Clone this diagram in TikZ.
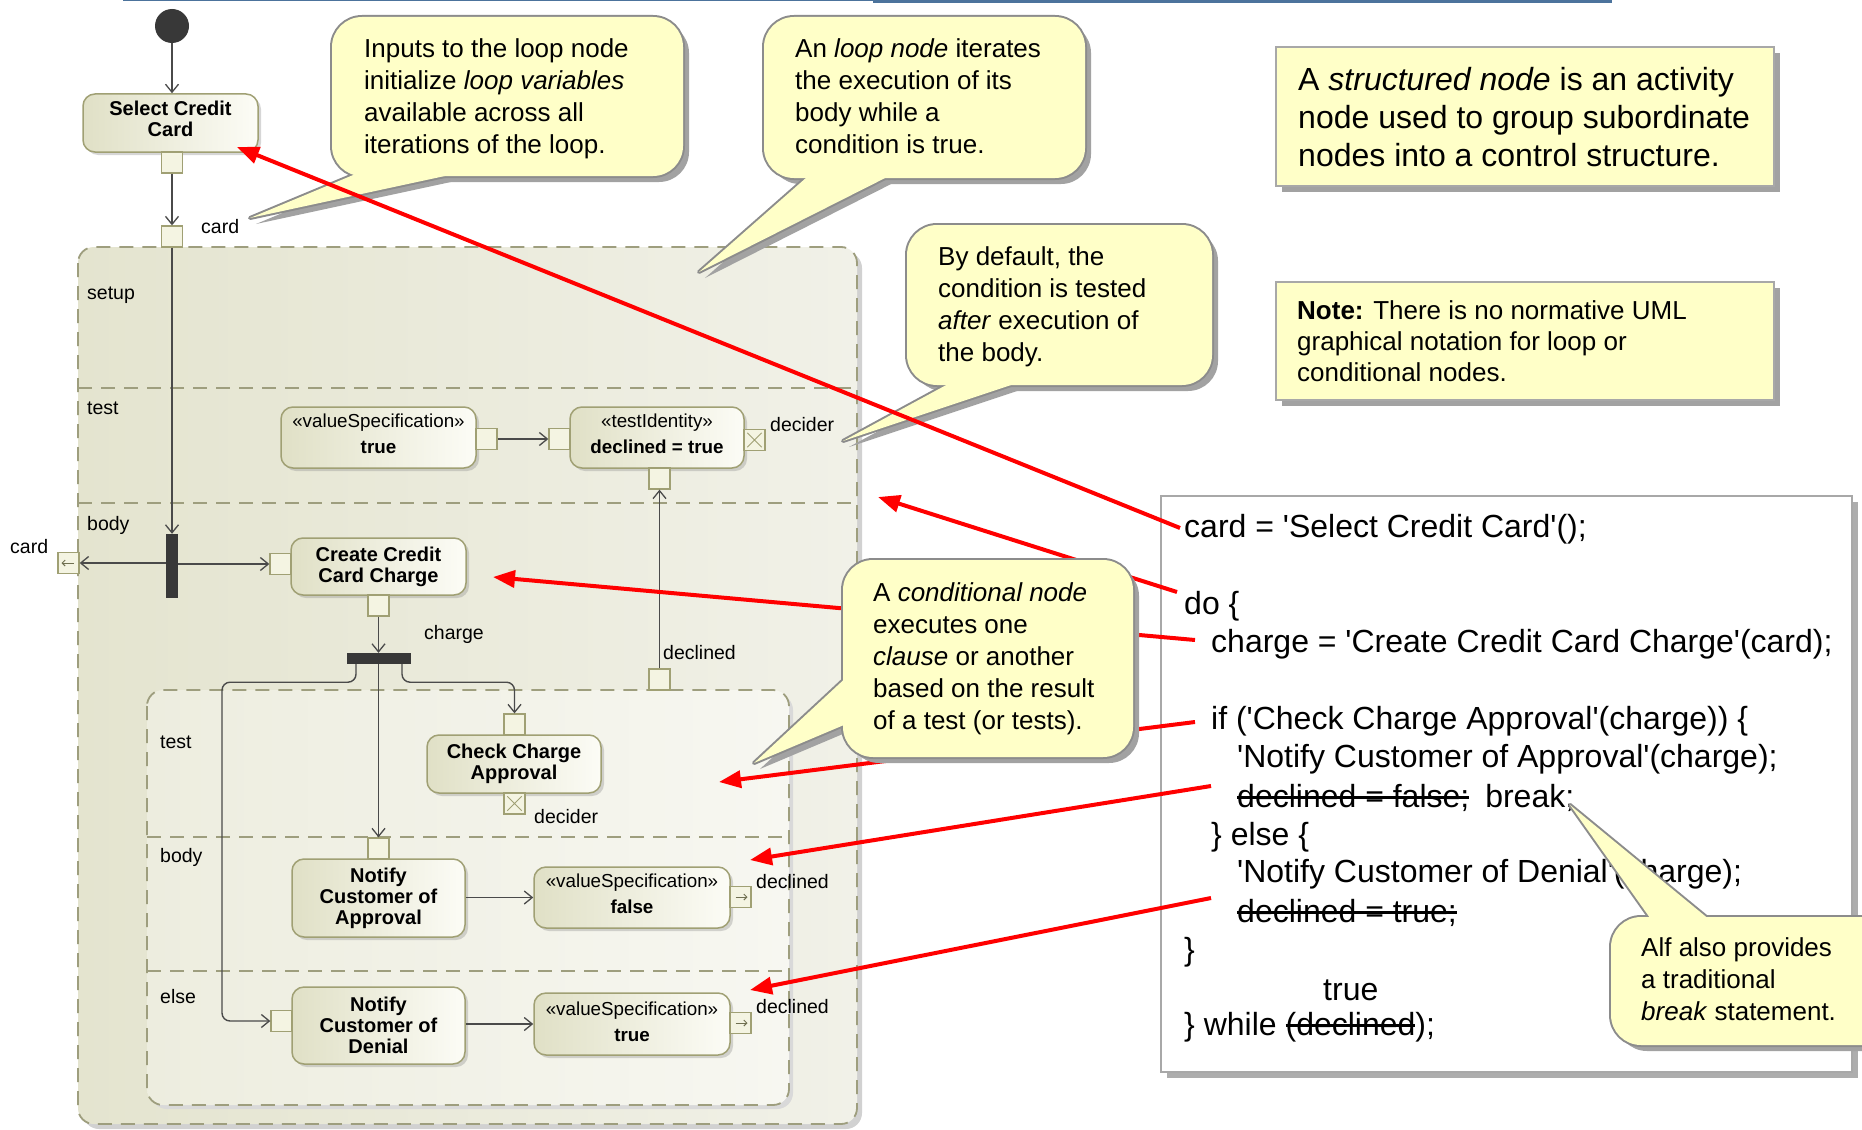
\documentclass[tikz,border=0pt]{standalone}
\usepackage{fontspec}
\newfontfamily\af{Liberation Sans}
\usetikzlibrary{arrows.meta,shadows}

\definecolor{calfill}{HTML}{FFFFC8}
\definecolor{calborder}{HTML}{8C8C8C}
\definecolor{calshadow}{HTML}{A2A2A2}
\definecolor{boxborder}{HTML}{A8A8A8}
\definecolor{actborder}{HTML}{A0A074}
\definecolor{actleft}{HTML}{E0E0C6}
\definecolor{actright}{HTML}{FCFCF6}
\definecolor{pinfill}{HTML}{F4F4E2}
\definecolor{loopleft}{HTML}{E4E4CF}
\definecolor{loopright}{HTML}{F1F1E8}
\definecolor{condleft}{HTML}{EDEDDF}
\definecolor{condright}{HTML}{F7F7F1}
\definecolor{dashcol}{HTML}{9E9E7E}
\definecolor{flowcol}{HTML}{4A4A4A}
\definecolor{barcol}{HTML}{383838}
\definecolor{topblue}{HTML}{4C739C}
\definecolor{redline}{HTML}{FF0000}

% struck-out text
\newsavebox\strkbox
\newcommand\strk[1]{\sbox\strkbox{#1}\rlap{\rule[0.27em]{\wd\strkbox}{0.075em}}\usebox\strkbox}

% speech balloon: rounded box #1-#2, pointer triangle #3 #4 #5
\newcommand\balloon[5]{%
  \fill[calshadow, shift={(6,6)}, rounded corners=30pt] (#1) rectangle (#2);
  \fill[calshadow, shift={(6,6)}] (#3) -- (#4) -- (#5) -- cycle;
  \filldraw[calborder, line width=4pt, rounded corners=30pt] (#1) rectangle (#2);
  \filldraw[calborder, line width=4pt, line join=round] (#3) -- (#4) -- (#5) -- cycle;
  \fill[calfill, rounded corners=30pt] (#1) rectangle (#2);
  \fill[calfill] (#3) -- (#4) -- (#5) -- cycle;
}

\tikzset{
  action/.style={draw=actborder, line width=1.5pt, rounded corners=12pt,
    left color=actleft, right color=actright, inner sep=2pt, align=center,
    font=\fontsize{20}{21}\selectfont\bfseries,
    drop shadow={shadow xshift=3pt, shadow yshift=-3pt, fill=black!45, opacity=.35}},
  valuebox/.style={action},
  vlabel/.style={align=center, inner sep=0pt, font=\fontsize{18.8}{26}\selectfont, yshift=3.5pt},
  alabel/.style={align=center, inner sep=0pt, font=\fontsize{20}{21}\selectfont\bfseries, yshift=4pt},
  pinbox/.style={draw=actborder, fill=pinfill, line width=1.3pt, minimum size=21pt, inner sep=0pt},
  flow/.style={draw=flowcol, line width=1.4pt, -{Straight Barb[length=8pt,width=13pt,line width=1.3pt]}},
  pinarrow/.style={draw=actborder!70!black, line width=1pt, -{Straight Barb[length=3pt,width=6pt,line width=1pt]}},
  lbl/.style={anchor=west, inner sep=0pt, font=\fontsize{19.5}{21}\selectfont},
  bar/.style={fill=barcol, inner sep=0pt},
  redarrow/.style={draw=redline, line width=4pt, -{Triangle[length=22pt,width=17pt]}},
  calltext/.style={anchor=north west, inner sep=0pt, align=left, font=\fontsize{26}{32}\selectfont},
  codeline/.style={anchor=base west, inner sep=0pt, font=\fontsize{32}{38}\selectfont},
  region/.style={draw=dashcol, line width=1.8pt, dash pattern=on 14pt off 9pt, rounded corners=16pt},
  sepline/.style={draw=dashcol, line width=1.8pt, dash pattern=on 14pt off 9pt},
}

\begin{document}
\af
\begin{tikzpicture}[x=1pt,y=-1pt]
\useasboundingbox (0,0) rectangle (1862,1129);
\fill[white] (0,0) rectangle (1862,1129);
\clip (0,0) rectangle (1862,1129);

% header rule
\draw[topblue, line width=1.5pt] (123,0.75) -- (873,0.75);
\draw[topblue, line width=3pt] (873,1.5) -- (1612,1.5);

% ---------- loop node ----------
\fill[black!18, rounded corners=16pt] (83,252) rectangle (862,1129);
\path[left color=loopleft, right color=loopright, rounded corners=16pt] (78,247) rectangle (857,1124);
\draw[region] (78,247) rectangle (857,1124);
\draw[sepline] (78,388) -- (857,388);
\draw[sepline] (78,503) -- (857,503);
\node[lbl] (lsetup) at (87,295) {setup};
\node[lbl] (ltest) at (87,408) {test};
\node[lbl] (lbody) at (87,525) {body};

% ---------- conditional node ----------
\fill[black!15, rounded corners=16pt] (151,694) rectangle (793,1109);
\path[left color=condleft, right color=condright, rounded corners=16pt] (147,690) rectangle (789,1105);
\draw[region] (147,690) rectangle (789,1105);
\draw[sepline] (147,837) -- (789,837);
\draw[sepline] (147,971) -- (789,971);
\node[lbl] (ctest) at (160,742) {test};
\node[lbl] (cbody) at (160,857) {body};
\node[lbl] (celse) at (160,997) {else};

% ---------- activity nodes ----------
\node[circle, fill=barcol, minimum size=34pt, inner sep=0pt] (init) at (172,26) {};
\node[action, minimum width=175pt, minimum height=58pt,
      label={[alabel]center:{Select Credit\\Card}}] (selectcard) at (170.5,123) {};
\node[action, minimum width=175pt, minimum height=57pt] (create) at (378.5,566.5) {Create Credit\\Card Charge};
\node[valuebox, minimum width=195pt, minimum height=61pt,
      label={[vlabel]center:{«valueSpecification»\\\textbf{true}}}] (vs1) at (378.5,437.5) {};
\node[valuebox, minimum width=174pt, minimum height=61pt,
      label={[vlabel]center:{«testIdentity»\\\textbf{declined = true}}}] (ti) at (657,437.5) {};
\node[action, minimum width=174pt, minimum height=58pt] (check) at (514,764) {Check Charge\\Approval};
\node[action, minimum width=173pt, minimum height=78pt] (appr) at (378.5,898) {Notify\\Customer of\\Approval};
\node[valuebox, minimum width=196pt, minimum height=61pt,
      label={[vlabel]center:{«valueSpecification»\\\textbf{false}}}] (vs2) at (632,897.5) {};
\node[action, minimum width=173pt, minimum height=77pt] (den) at (378.5,1025.5) {Notify\\Customer of\\Denial};
\node[valuebox, minimum width=196pt, minimum height=62pt,
      label={[vlabel, yshift=-1pt]center:{«valueSpecification»\\\textbf{true}}}] (vs3) at (632,1024) {};

% pins
\node[pinbox] (pSel) at (172,162.5) {};
\node[pinbox] (pLoopIn) at (172,236.5) {};
\node[pinbox] (pCardOut) at (68.5,563) {};
\node[pinbox] (pCreateIn) at (280.5,564) {};
\node[pinbox] (pCreateOut) at (378.5,605.5) {};
\node[pinbox] (pVSout) at (486.5,439) {};
\node[pinbox] (pTIin) at (559.5,439) {};
\node[pinbox] (pTIdec) at (754.5,440) {};
\node[pinbox] (pTIbot) at (659.5,478.5) {};
\node[pinbox] (pDeclOut) at (659.5,679.5) {};
\node[pinbox] (pCheckIn) at (514.5,724.5) {};
\node[pinbox] (pCheckDec) at (514.5,803.5) {};
\node[pinbox] (pApprIn) at (378.5,848.5) {};
\node[pinbox] (pFalseOut) at (740.5,897) {};
\node[pinbox] (pDenIn) at (281.5,1021) {};
\node[pinbox] (pTrueOut) at (740.5,1023) {};

% decider marks and output-pin arrows
\foreach \p in {pTIdec,pCheckDec}{
  \draw[actborder, line width=1pt] ([shift={(4,4)}]\p.north west) -- ([shift={(-4,-4)}]\p.south east)
        ([shift={(-4,4)}]\p.north east) -- ([shift={(4,-4)}]\p.south west);
}
\draw[pinarrow] ([xshift=5pt]pCardOut.center) -- ([xshift=-7pt]pCardOut.center);
\draw[pinarrow] ([xshift=-5pt]pFalseOut.center) -- ([xshift=7pt]pFalseOut.center);
\draw[pinarrow] ([xshift=-5pt]pTrueOut.center) -- ([xshift=7pt]pTrueOut.center);

% bars
\node[bar, minimum width=12pt, minimum height=64pt] (fork) at (172,566) {};
\node[bar, minimum width=64pt, minimum height=11pt] (join) at (379,658.5) {};

% flows
\draw[flow] (init.south) -- (init.south |- selectcard.north);
\draw[flow] (pSel.south) -- (pLoopIn.north);
\draw[flow] (pLoopIn.south) -- (pLoopIn.south |- fork.north);
\draw[flow] (fork.west |- pCardOut) -- (pCardOut.east);
\draw[flow] (fork.east |- pCreateIn) -- (pCreateIn.west);
\draw[flow] (pCreateOut.south) -- (pCreateOut.south |- join.north);
\draw[flow] (join.south -| pApprIn) -- (pApprIn.north);
\draw[flow, rounded corners=8pt] ([xshift=23pt]join.south) -- ++(0,18) -| (pCheckIn.north);
\coordinate (leftrun) at (222,1021);
\draw[flow, rounded corners=8pt] ([xshift=-23pt]join.south) -- ++(0,18) -| (leftrun) -- (pDenIn.west);
\draw[flow] (pVSout.east) -- (pTIin.west);
\draw[flow] (pDeclOut.north) -- (pTIbot.south);
\draw[flow] (appr.east |- vs2) -- (vs2.west);
\draw[flow] (den.east |- vs3) -- (vs3.west);

% pin labels
\node[lbl] (cardlblA) at (201,227) {card};
\node[lbl] (cardlblB) at (10,547) {card};
\node[lbl] (chargelbl) at (424,634) {charge};
\node[lbl] (declA) at (663,653) {declined};
\node[lbl] (decidA) at (770,425) {decider};
\node[lbl] (decidB) at (534,817) {decider};
\node[lbl] (declB) at (756,882) {declined};
\node[lbl] (declC) at (756,1007) {declined};

% ---------- balloons over the diagram ----------
\balloon{332,17}{683,176}{370,168}{482,168}{250,218}
\node[calltext] (noteInputs) at (364,38.5) {Inputs to the loop node\\initialize \textit{loop variables}\\available across all\\iterations of the loop.};

\balloon{764,17}{1085,178}{815,170}{901,170}{699,272}
\node[calltext] (noteLoop) at (795,38.5) {An \textit{loop node} iterates\\the execution of its\\body while a\\condition is true.};

\balloon{907,225}{1212,385}{961,377}{1035,377}{843,441}
\node[calltext] (noteDefault) at (938,246.5) {By default, the\\condition is tested\\\textit{after} execution of\\the body.};

% ---------- boxed notes ----------
\fill[calshadow] (1282,53) rectangle (1780,192);
\filldraw[fill=calfill, draw=boxborder, line width=2pt] (1276,47) rectangle (1774,186);
\node[anchor=north west, inner sep=0pt, align=left, font=\fontsize{32}{38}\selectfont] (noteStruct) at (1298,67.5)
  {A \textit{structured node} is an activity\\node used to group subordinate\\nodes into a control structure.};

\fill[calshadow] (1282,288) rectangle (1780,406);
\filldraw[fill=calfill, draw=boxborder, line width=2pt] (1276,282) rectangle (1774,400);
\node[anchor=north west, inner sep=0pt, align=left, font=\fontsize{26}{31}\selectfont] (noteUML) at (1297,300)
  {\textbf{Note:} There is no normative UML\\graphical notation for loop or\\conditional nodes.};

% ---------- Alf code ----------
\fill[black!32] (1167,502) rectangle (1858,1078);
\filldraw[fill=white, draw=boxborder, line width=2pt] (1161,496) rectangle (1852,1072);
\node[codeline] (code1) at (1184,537.5) {card = 'Select Credit Card'();};
\node[codeline] (code2) at (1184,614.5) {do \{};
\node[codeline] (code3) at (1211,652.5) {charge = 'Create Credit Card Charge'(card);};
\node[codeline] (code4) at (1211,729.5) {if ('Check Charge Approval'(charge)) \{};
\node[codeline] (code5) at (1237,767.5) {'Notify Customer of Approval'(charge);};
\node[codeline] (code6) at (1237,807.5) {\strk{declined = false;}\hspace{7pt} break;};
\node[codeline] (code7) at (1211,845.5) {\} else \{};
\node[codeline] (code8) at (1237,882.5) {'Notify Customer of Denial'(charge);};
\node[codeline] (code9) at (1237,922.5) {\strk{declined = true;}};
\node[codeline] (code10) at (1184,960.5) {\}};
\node[codeline] (code11) at (1323,1000.5) {true};
\node[codeline] (code12) at (1184,1035.5) {\} while \strk{(declined});};

% ---------- correspondence arrows ----------
\coordinate (sCard) at (1180,528);   \coordinate (tCard) at (237,147);
\coordinate (sDo) at (1177,592);     \coordinate (tDo) at (878,497);
\coordinate (sCharge) at (1195,640); \coordinate (tCharge) at (493,577);
\coordinate (sIf) at (1195,722);     \coordinate (tIf) at (719,782);
\coordinate (sFalse) at (1211,786);  \coordinate (tFalse) at (750,860);
\coordinate (sTrue) at (1211,898);   \coordinate (tTrue) at (750,990);
\draw[redarrow] (sCard) -- (tCard);
\draw[redarrow] (sDo) -- (tDo);
\draw[redarrow] (sCharge) -- (tCharge);
\draw[redarrow] (sIf) -- (tIf);
\draw[redarrow] (sFalse) -- (tFalse);
\draw[redarrow] (sTrue) -- (tTrue);

% ---------- balloons on top ----------
\balloon{843,560}{1133,757}{851,673}{851,722}{754,763}
\node[calltext] (noteCond) at (873,582.5) {A \textit{conditional node}\\executes one\\\textit{clause} or another\\based on the result\\of a test (or tests).};

\balloon{1611,917}{1910,1045}{1655,925}{1716,925}{1570,805}
\node[calltext] (noteBreak) at (1641,937.5) {Alf also provides\\a traditional\\\textit{break} statement.};
\end{tikzpicture}
\end{document}
